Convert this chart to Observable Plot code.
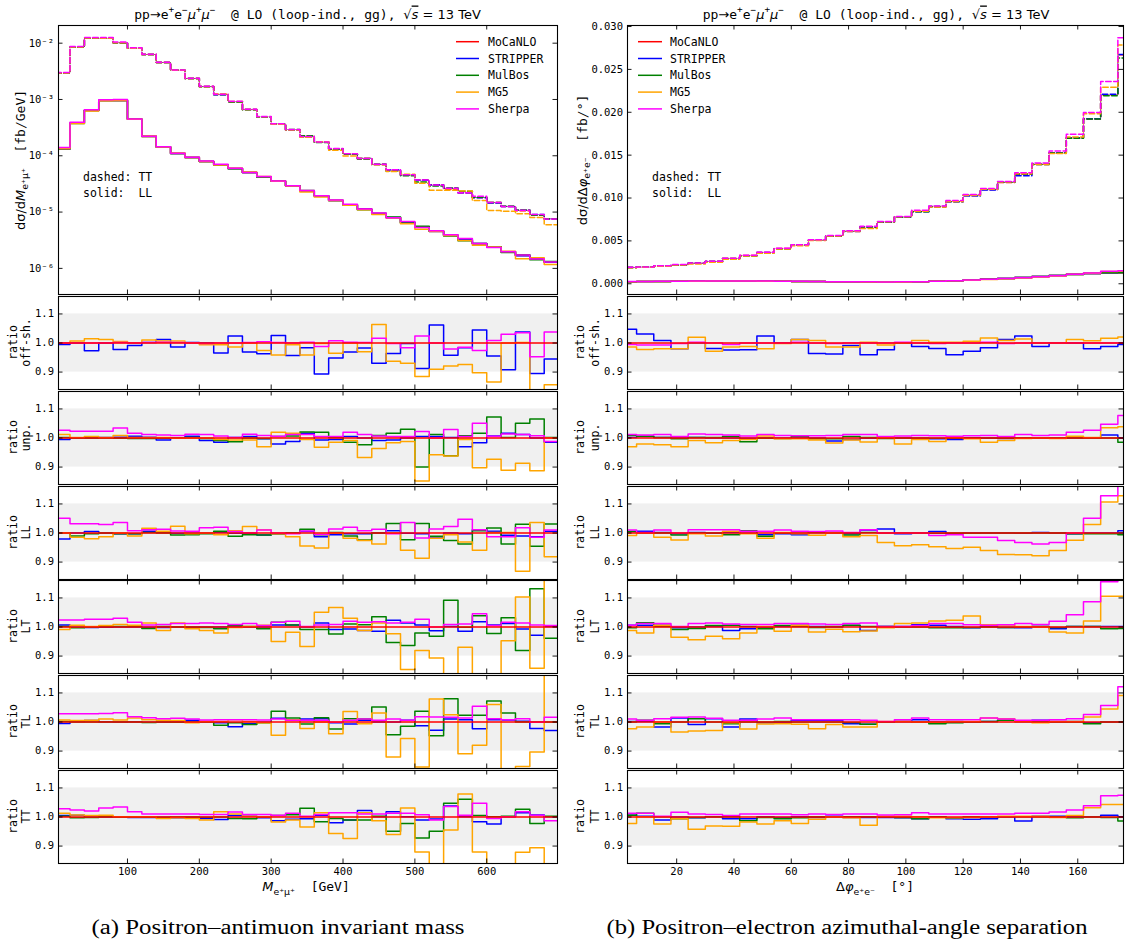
<!DOCTYPE html>
<html><head><meta charset="utf-8">
<script src="https://cdn.jsdelivr.net/npm/d3@7"></script>
<script src="https://cdn.jsdelivr.net/npm/@observablehq/plot@0.6"></script>
<style>
body{margin:0;background:#fff}
#fig{position:relative;width:1126px;height:940px;overflow:hidden;background:#fff}
</style>
</head><body><div id="fig"></div>
<script>
// ---------------- data ----------------
const generators = ["MoCaNLO", "STRIPPER", "MulBos", "MG5", "Sherpa"];
const genColors = ["#ff0000", "#0000ff", "#008000", "#ffa500", "#ff00ff"];
const ratioNames = ["off-sh.", "unp.", "LL", "LT", "TL", "TT"];

const massEdges = [0,20,40,60,80,100,120,140,160,180,200,220,240,260,280,300,320,340,360,380,400,420,440,460,480,500,520,540,560,580,600,620,640,660,680,700];
const phiEdges = [0,6,12,18,24,30,36,42,48,54,60,66,72,78,84,90,96,102,108,114,120,126,132,138,144,150,156,162,168,174,180];
const massTicks = [100,200,300,400,500,600];
const phiTicks = [20,40,60,80,100,120,140,160];
const ratioTicks = [0.9, 1.0, 1.1];
const logTicks = [1e-6, 1e-5, 1e-4, 1e-3, 1e-2];
const logTickLabels = ["10⁻⁶", "10⁻⁵", "10⁻⁴", "10⁻³", "10⁻²"];
const linTicks = [0, 0.005, 0.010, 0.015, 0.020, 0.025, 0.030];
const ratioRef = [1.0];
const band = [{lo: 0.9, hi: 1.1}];

// main panels: MoCaNLO reference
const massTT_MoCaNLO = [2.93e-3,8.5e-3,1.23e-2,1.22e-2,1.02e-2,8.15e-3,6.29e-3,4.54e-3,3.32e-3,2.36e-3,1.70e-3,1.23e-3,9.1e-4,6.64e-4,4.92e-4,3.70e-4,2.90e-4,2.20e-4,1.75e-4,1.33e-4,1.07e-4,8.86e-5,7.02e-5,5.57e-5,4.54e-5,3.70e-5,3.06e-5,2.56e-5,2.20e-5,1.82e-5,1.48e-5,1.26e-5,1.06e-5,8.97e-6,7.62e-6];
const massLL_MoCaNLO = [1.33e-4,3.80e-4,6.38e-4,9.6e-4,9.6e-4,4.48e-4,2.20e-4,1.43e-4,1.10e-4,9.33e-5,7.93e-5,6.92e-5,5.96e-5,5.06e-5,4.24e-5,3.55e-5,2.93e-5,2.39e-5,1.95e-5,1.61e-5,1.35e-5,1.13e-5,9.46e-6,7.93e-6,6.56e-6,5.42e-6,4.60e-6,3.86e-6,3.23e-6,2.74e-6,2.39e-6,2.00e-6,1.70e-6,1.49e-6,1.28e-6];
const phiTT_MoCaNLO = [0.0019,0.00194,0.0021,0.0022,0.0024,0.0026,0.00295,0.0033,0.00364,0.0041,0.00453,0.00508,0.00558,0.00612,0.00663,0.00721,0.00779,0.00845,0.00899,0.00961,0.01031,0.0110,0.01182,0.01279,0.01391,0.01523,0.01702,0.01922,0.02198,0.0267];
const phiLL_MoCaNLO = [0.00025,0.00026,0.00028,0.0003,0.00031,0.00032,0.00032,0.00032,0.00031,0.0003,0.00028,0.00026,0.00024,0.00023,0.00022,0.00022,0.00023,0.00025,0.0003,0.00036,0.00044,0.00053,0.00063,0.00074,0.00086,0.00098,0.0011,0.0012,0.0013,0.0013];

// ratio panels, invariant mass
const mOffsh_STRIPPER = [0.995,1.0,0.973,1.0,0.978,0.991,1.002,1.012,0.986,1.002,1.0,0.966,1.024,0.969,0.963,1.026,0.957,0.984,0.893,0.948,0.969,0.983,0.930,0.964,0.998,0.912,1.062,0.958,0.984,1.045,0.955,0.908,1.038,0.895,0.945];
const mOffsh_MG5 = [1.0,1.007,1.015,1.012,1.005,1.0,1.010,1.007,1.007,1.0,0.994,0.994,0.986,1.0,0.974,0.959,0.994,0.959,0.998,0.965,1.0,0.970,1.064,0.937,0.930,0.885,0.910,0.921,0.926,0.898,0.866,1.0,1.002,0.80,0.856];
const mOffsh_Sherpa = [1.0,1.0,1.0,1.0,1.002,1.0,1.002,1.003,1.002,1.0,0.998,1.0,1.0,1.002,1.004,1.002,1.0,1.003,0.988,1.008,1.003,1.002,1.016,0.998,0.984,1.024,1.0,0.979,0.985,0.974,1.009,1.03,1.035,0.953,1.038];

const mUnp_STRIPPER = [0.995,1.0,1.0,1.002,1.003,1.006,1.003,0.993,0.999,1.006,0.991,0.985,1.002,1.005,0.997,0.979,0.988,1.016,0.993,0.995,1.005,1.0,0.991,0.993,1.0,1.005,1.005,1.002,0.970,0.984,1.007,1.016,1.012,1.0,0.985];
const mUnp_MulBos = [1.002,1.0,1.0,1.0,0.999,0.998,0.998,0.999,1.0,1.002,0.998,0.991,0.987,1.0,0.998,1.005,1.007,1.021,1.02,1.002,0.985,0.977,1.009,1.016,1.03,0.90,1.012,0.939,1.008,1.016,1.072,1.002,1.051,1.065,1.002];
const mUnp_MG5 = [1.012,1.002,1.005,1.002,1.009,1.002,1.002,1.002,0.999,1.0,1.0,0.995,0.993,0.993,0.97,1.02,1.016,0.995,0.968,0.985,0.991,0.933,0.964,0.984,0.988,0.852,0.942,0.938,0.995,0.898,0.927,0.889,0.913,0.887,1.0];
const mUnp_Sherpa = [1.027,1.023,1.023,1.023,1.034,1.016,1.012,1.010,1.009,1.013,1.012,1.007,1.002,1.013,1.009,1.006,1.012,1.012,1.005,1.005,1.02,1.012,1.007,1.005,1.005,1.022,1.0,1.029,1.005,1.051,1.006,1.014,1.012,1.008,0.988];

const mLL_STRIPPER = [0.979,1.0,1.005,1.0,0.997,0.997,1.006,1.002,0.999,0.999,1.0,1.003,0.999,0.997,0.993,0.997,0.999,1.005,0.987,0.994,0.997,0.997,1.0,1.008,0.999,0.997,0.983,1.0,0.997,1.011,1.006,0.992,0.990,0.987,1.006];
const mLL_MulBos = [1.0,0.99,0.997,1.0,0.997,0.997,1.002,1.0,0.993,0.994,0.997,1.006,0.989,0.994,0.993,0.997,1.0,1.013,0.994,1.002,0.99,0.976,1.0,1.033,0.977,1.033,0.989,0.974,0.962,1.008,1.017,0.962,1.03,0.954,1.031];
const mLL_MG5 = [1.0,0.985,0.98,0.987,1.0,0.99,1.016,1.006,1.023,0.997,1.0,0.994,1.008,1.022,1.011,0.997,0.987,0.955,0.948,1.0,0.982,0.974,0.962,1.0,0.941,0.913,0.982,0.994,0.969,0.941,1.002,1.002,0.868,1.036,0.918];
const mLL_Sherpa = [1.051,1.032,1.032,1.029,1.036,1.008,1.011,1.013,1.007,1.006,1.018,1.02,1.005,1.001,1.01,1.0,0.997,1.007,0.995,1.014,1.02,1.008,1.013,0.997,1.036,0.983,1.014,1.022,1.047,1.011,0.987,0.987,1.018,0.985,1.01];

const mLT_STRIPPER = [1.007,0.999,0.998,0.999,1.0,1.0,0.999,0.998,1.0,0.999,1.0,1.0,1.002,1.0,1.0,1.007,1.007,1.0,1.014,0.991,0.993,0.988,0.985,1.023,1.014,1.007,0.987,1.002,0.985,1.018,1.007,1.012,0.993,0.972,1.002];
const mLT_MulBos = [1.002,0.997,1.0,1.002,1.002,1.002,0.995,1.002,1.0,1.0,0.998,0.994,1.005,1.002,0.994,1.016,1.007,0.991,0.991,0.976,1.01,1.008,1.035,0.947,0.936,0.979,0.968,1.092,0.999,1.039,0.978,1.032,0.919,1.132,0.961];
const mLT_MG5 = [0.991,1.006,1.002,1.005,1.009,1.006,1.014,0.988,1.014,0.994,0.988,0.979,0.998,1.002,1.006,0.95,0.982,0.933,1.051,1.067,1.03,0.988,1.014,0.977,0.854,0.919,0.893,0.80,0.93,0.78,0.80,0.953,1.103,0.858,1.22];
const mLT_Sherpa = [1.024,1.024,1.027,1.027,1.03,1.016,1.007,1.009,1.012,1.012,1.014,1.012,1.009,1.012,1.005,1.016,1.02,1.002,1.007,1.009,1.02,1.016,1.018,1.014,1.016,1.027,1.0,1.009,1.01,1.046,1.005,1.016,1.014,1.007,1.005];

const mTL_STRIPPER = [0.995,1.002,1.005,1.001,1.0,1.001,0.999,0.999,1.003,1.006,1.002,0.997,0.984,0.994,0.999,1.013,1.008,1.01,1.011,0.997,0.993,1.006,1.0,1.0,1.006,0.987,0.972,1.01,1.008,0.977,1.008,1.007,1.003,0.978,0.971];
const mTL_MulBos = [1.002,1.0,1.0,1.0,1.0,1.0,0.998,1.0,0.999,1.0,1.0,0.989,0.997,0.991,0.997,1.037,1.014,0.993,1.015,0.976,1.011,1.01,1.052,0.956,0.985,1.037,0.953,1.08,1.023,1.023,1.072,1.031,1.0,1.0,1.0];
const mTL_MG5 = [1.007,1.005,1.006,1.01,1.007,1.014,1.008,1.006,1.005,0.997,1.002,1.002,1.008,1.002,0.997,0.954,1.008,0.978,1.0,0.96,1.036,0.994,1.031,0.88,0.943,0.845,1.079,1.025,0.891,0.92,1.06,0.78,0.847,0.897,1.22];
const mTL_Sherpa = [1.028,1.028,1.028,1.029,1.032,1.018,1.015,1.011,1.013,1.01,1.007,1.008,1.008,1.008,1.007,1.01,1.006,1.006,1.006,0.999,1.006,1.01,1.006,1.01,1.006,1.018,1.017,1.016,1.014,1.054,1.011,1.008,1.011,0.999,1.016];

const mTT_STRIPPER = [1.005,1.006,0.999,1.0,0.999,0.998,0.998,0.999,0.997,0.998,0.995,0.991,1.005,1.003,0.997,0.987,0.992,0.994,1.006,0.98,0.99,1.022,1.001,1.018,1.001,0.99,0.993,1.038,1.001,0.984,0.976,1.001,1.015,1.007,1.001];
const mTT_MulBos = [1.003,0.997,0.998,1.001,1.0,1.0,0.999,0.998,1.0,1.0,0.999,1.0,0.995,0.994,1.001,1.005,1.008,1.03,0.984,0.995,0.99,0.99,1.003,0.951,0.978,0.928,0.951,1.047,1.061,1.005,1.001,1.003,1.027,0.978,1.003];
const mTT_MG5 = [1.013,1.007,1.005,1.006,1.001,1.001,1.001,0.995,0.997,0.995,0.99,1.018,1.01,1.003,1.001,0.983,0.99,0.966,1.015,0.943,0.926,1.015,0.987,0.94,1.031,0.88,0.80,0.955,1.079,0.88,0.72,0.82,0.879,0.894,0.78];
const mTT_Sherpa = [1.028,1.024,1.021,1.031,1.034,1.018,1.01,1.01,1.01,1.01,1.009,1.009,1.017,1.009,1.009,1.006,1.013,1.003,1.009,1.015,1.015,1.01,1.01,1.013,1.013,1.008,0.99,1.036,1.006,1.047,0.995,1.001,1.018,1.006,0.987];

// ratio panels, azimuthal separation
const pOffsh_STRIPPER = [1.047,1.031,1.009,0.98,1.001,0.981,0.976,0.977,1.024,1.001,1.012,0.964,0.962,0.991,0.96,0.977,1.0,0.988,0.981,0.96,0.972,0.984,1.012,1.024,0.988,1.001,1.0,0.98,0.988,0.995];
const pOffsh_MG5 = [0.986,0.978,0.98,0.98,1.02,0.972,0.986,0.988,0.98,0.998,1.012,1.009,0.986,0.986,1.003,0.993,1.0,1.009,1.003,1.003,1.006,1.017,1.009,1.014,1.0,1.0,1.012,1.008,1.016,1.021];
const pOffsh_Sherpa = [0.995,0.993,0.993,0.998,1.003,1.0,0.995,1.0,1.0,1.0,1.003,1.0,0.998,1.0,1.0,1.0,1.003,1.0,0.998,1.0,1.0,1.003,0.998,1.0,1.0,1.0,1.0,1.0,1.0,1.0];

const pUnp_STRIPPER = [1.002,1.005,1.002,1.0,1.002,1.0,1.0,0.999,1.0,0.999,1.0,1.0,0.99,0.995,0.999,1.0,1.0,0.998,0.997,0.995,1.0,1.0,0.998,1.0,1.0,0.999,1.0,1.001,1.01,1.0];
const pUnp_MulBos = [1.009,1.006,1.002,0.997,1.002,1.002,1.005,0.987,0.999,0.998,1.005,0.997,0.997,1.005,1.002,0.998,1.0,1.0,0.999,0.999,1.0,1.0,1.0,1.0,1.001,1.0,1.0,1.0,1.0,0.985];
const pUnp_MG5 = [0.97,0.979,0.977,0.97,0.991,0.984,0.991,0.995,1.007,0.997,0.997,0.993,0.983,0.993,0.986,1.002,0.979,0.995,0.988,1.002,0.997,0.985,0.991,0.998,1.0,0.998,1.006,1.002,1.035,1.039];
const pUnp_Sherpa = [1.012,1.01,1.012,1.005,1.014,1.012,1.01,1.007,1.012,1.009,1.008,1.008,1.009,1.012,1.012,1.005,1.007,1.009,1.008,1.006,1.008,1.009,1.005,1.012,1.009,1.01,1.02,1.027,1.047,1.077];

const pLL_STRIPPER = [1.005,1.006,1.002,0.997,1.002,0.999,1.002,0.999,0.994,0.997,0.994,1.002,1.0,0.997,1.01,1.014,0.997,0.999,1.005,0.997,1.0,1.0,1.0,0.999,1.002,1.0,0.997,1.0,1.0,1.008];
const pLL_MulBos = [1.005,1.0,1.0,0.993,1.0,1.0,0.994,1.008,0.989,1.0,0.999,1.002,1.002,0.993,1.002,1.0,1.0,1.0,0.999,1.0,0.999,1.0,1.0,1.0,1.0,1.0,0.997,0.997,0.997,0.994];
const pLL_MG5 = [0.991,1.0,0.985,0.976,0.997,0.99,1.006,0.997,0.982,1.002,0.997,0.992,1.0,0.987,0.991,0.967,0.956,0.96,0.953,0.947,0.951,0.94,0.926,0.925,0.922,0.94,0.975,1.029,1.107,1.128];
const pLL_Sherpa = [1.01,1.002,1.01,1.0,1.011,1.011,1.011,1.006,1.006,1.01,1.006,1.005,1.007,1.002,1.011,1.0,1.0,1.0,0.991,0.994,0.985,0.985,0.974,0.967,0.962,0.967,1.0,1.051,1.128,1.18];

const pLT_STRIPPER = [1.006,1.006,1.006,0.997,1.0,1.002,0.988,0.994,0.999,1.002,1.006,1.002,1.0,1.005,0.988,1.002,1.002,1.008,1.006,1.002,0.997,1.002,0.998,0.997,1.002,0.994,1.002,1.002,1.002,1.002];
const pLT_MulBos = [0.997,1.015,1.002,0.991,0.995,1.005,1.006,1.002,0.994,1.005,1.002,0.998,1.002,1.006,1.002,1.002,1.0,1.0,0.997,0.997,0.998,1.0,0.998,1.0,1.002,0.998,1.002,1.002,0.994,0.995];
const pLT_MG5 = [0.988,0.979,1.006,0.965,0.956,0.968,0.96,0.979,1.002,0.985,1.006,0.983,0.992,0.984,0.986,0.997,1.012,1.014,1.021,1.023,1.038,1.008,1.007,1.002,1.0,0.983,0.979,1.021,1.106,1.106];
const pLT_Sherpa = [1.006,1.012,1.012,1.002,1.012,1.014,1.01,1.009,1.009,1.012,1.012,1.01,1.009,1.012,1.014,1.002,1.002,1.005,1.012,1.012,1.008,1.006,1.008,1.012,1.009,1.02,1.042,1.087,1.156,1.2];

const pTL_STRIPPER = [1.002,1.002,0.983,1.014,0.991,1.011,0.983,1.01,0.997,0.998,1.006,1.006,1.006,0.994,0.992,1.0,1.002,1.008,1.0,1.002,1.0,1.002,1.006,1.002,1.006,1.002,1.002,0.997,1.0,1.0];
const pTL_MulBos = [1.0,1.006,0.994,1.0,1.011,1.0,0.994,1.0,1.0,1.002,1.0,1.0,1.0,0.998,0.992,1.0,1.002,1.0,0.994,0.997,1.0,1.002,1.006,1.002,1.0,1.0,1.0,0.994,1.0,1.0];
const pTL_MG5 = [0.977,0.983,1.0,0.966,0.969,0.971,0.997,0.976,0.993,0.994,0.992,0.977,0.991,0.983,0.983,1.002,1.002,1.0,0.999,1.002,1.002,1.014,1.011,1.002,0.997,1.002,1.002,1.017,1.045,1.091];
const pTL_Sherpa = [1.01,1.006,1.011,1.016,1.017,1.013,1.006,1.006,1.01,1.014,1.008,1.008,1.008,1.008,1.006,1.002,1.008,1.014,1.008,1.008,1.008,1.014,1.01,1.006,1.006,1.008,1.011,1.026,1.057,1.121];

const pTT_STRIPPER = [1.006,1.003,0.99,1.0,0.997,1.001,0.994,0.994,1.001,0.998,1.001,0.998,1.003,0.998,0.998,0.998,0.997,0.994,1.001,0.994,0.992,0.994,1.001,0.986,1.003,1.003,1.001,1.001,1.006,1.001];
const pTT_MulBos = [1.006,1.013,1.001,0.994,0.998,1.001,1.001,0.987,0.998,0.994,0.997,1.001,1.001,1.001,1.001,1.001,0.998,0.994,1.001,0.997,1.001,1.001,1.001,1.001,1.001,1.001,0.997,1.0,0.998,0.986];
const pTT_MG5 = [0.978,1.001,0.976,0.994,0.958,0.969,0.968,0.983,0.976,0.987,0.978,0.992,1.001,0.997,0.972,1.003,1.003,1.001,0.997,0.997,0.998,1.001,1.003,1.003,1.003,0.998,1.005,1.032,1.043,1.043];
const pTT_Sherpa = [1.013,1.013,1.003,1.016,1.01,1.009,1.005,1.01,1.01,1.01,1.008,1.01,1.009,1.01,1.01,1.007,1.008,1.015,1.01,1.01,1.01,1.01,1.01,1.013,1.013,1.017,1.024,1.039,1.073,1.075];

// ---------------- tables built from the arrays ----------------
const massRatios = [
  {STRIPPER: mOffsh_STRIPPER, MG5: mOffsh_MG5, Sherpa: mOffsh_Sherpa},
  {STRIPPER: mUnp_STRIPPER, MulBos: mUnp_MulBos, MG5: mUnp_MG5, Sherpa: mUnp_Sherpa},
  {STRIPPER: mLL_STRIPPER, MulBos: mLL_MulBos, MG5: mLL_MG5, Sherpa: mLL_Sherpa},
  {STRIPPER: mLT_STRIPPER, MulBos: mLT_MulBos, MG5: mLT_MG5, Sherpa: mLT_Sherpa},
  {STRIPPER: mTL_STRIPPER, MulBos: mTL_MulBos, MG5: mTL_MG5, Sherpa: mTL_Sherpa},
  {STRIPPER: mTT_STRIPPER, MulBos: mTT_MulBos, MG5: mTT_MG5, Sherpa: mTT_Sherpa}
];
const phiRatios = [
  {STRIPPER: pOffsh_STRIPPER, MG5: pOffsh_MG5, Sherpa: pOffsh_Sherpa},
  {STRIPPER: pUnp_STRIPPER, MulBos: pUnp_MulBos, MG5: pUnp_MG5, Sherpa: pUnp_Sherpa},
  {STRIPPER: pLL_STRIPPER, MulBos: pLL_MulBos, MG5: pLL_MG5, Sherpa: pLL_Sherpa},
  {STRIPPER: pLT_STRIPPER, MulBos: pLT_MulBos, MG5: pLT_MG5, Sherpa: pLT_Sherpa},
  {STRIPPER: pTL_STRIPPER, MulBos: pTL_MulBos, MG5: pTL_MG5, Sherpa: pTL_Sherpa},
  {STRIPPER: pTT_STRIPPER, MulBos: pTT_MulBos, MG5: pTT_MG5, Sherpa: pTT_Sherpa}
];

// ---------------- layout ----------------
const MONO = "'DejaVu Sans Mono', monospace";
const SANS = "'DejaVu Sans', sans-serif";
const SERIF = "'Liberation Serif', 'DejaVu Serif', serif";
const fig = document.getElementById("fig");

const MAIN_Y0 = 25, MAIN_H = 269;
const RATIO_TOPS = [296, 391, 486, 580, 675, 770];
const RATIO_H = 93;
const colMass = {x0: 58, w: 499, xDomain: [4.0, 698.5], edges: massEdges, ticks: massTicks, ratios: massRatios};
const colPhi  = {x0: 627, w: 496, xDomain: [2.83, 175.97], edges: phiEdges, ticks: phiTicks, ratios: phiRatios};

function stepRows(edges, vals) {
  const rows = vals.map((v, i) => ({x: edges[i], y: v}));
  rows.push({x: edges[vals.length], y: vals[vals.length - 1]});
  return rows;
}

function tickMarks(xt, yt, w, h) {
  const L = 4.5, s = {stroke: "black", strokeWidth: 0.9};
  return [
    Plot.ruleX(xt, {x: d => d, insetTop: h - L, ...s}),
    Plot.ruleX(xt, {x: d => d, insetBottom: h - L, ...s}),
    Plot.ruleY(yt, {y: d => d, insetRight: w - L, ...s}),
    Plot.ruleY(yt, {y: d => d, insetLeft: w - L, ...s})
  ];
}

function addPanel(x0, y0, w, h, xDomain, yOpts, marks) {
  const svg = Plot.plot({
    width: w, height: h, margin: 0,
    x: {domain: xDomain, axis: null},
    y: {...yOpts, axis: null},
    style: {fontFamily: MONO, fontSize: "10.5px", overflow: "visible", background: "transparent", color: "black"},
    marks
  });
  svg.style.position = "absolute";
  svg.style.left = x0 + "px";
  svg.style.top = y0 + "px";
  svg.style.maxWidth = "none";
  fig.appendChild(svg);
}

function stepLine(edges, vals, color, dashed) {
  return Plot.line(stepRows(edges, vals), {
    x: "x", y: "y", curve: "step-after", stroke: color, strokeWidth: 1.5,
    strokeDasharray: dashed ? "5.5,2.5" : null, clip: true
  });
}

function mainPanel(col, baseTT, baseLL, yOpts, yTicks, yLabels) {
  const ttR = col.ratios[5], llR = col.ratios[2];
  const marks = [];
  generators.forEach((g, i) => {
    const tt = g === "MoCaNLO" ? baseTT : baseTT.map((v, j) => v * ttR[g][j]);
    const ll = g === "MoCaNLO" ? baseLL : baseLL.map((v, j) => v * llR[g][j]);
    marks.push(stepLine(col.edges, tt, genColors[i], true));
    marks.push(stepLine(col.edges, ll, genColors[i], false));
  });
  marks.push(...tickMarks(col.ticks, yTicks, col.w, MAIN_H));
  marks.push(Plot.frame({stroke: "black", strokeWidth: 1.1}));
  marks.push(Plot.text(yTicks, {y: d => d, text: (d, i) => yLabels[i], frameAnchor: "left", textAnchor: "end", dx: -4.5}));
  addPanel(col.x0, MAIN_Y0, col.w, MAIN_H, col.xDomain, yOpts, marks);
}

function ratioPanels(col) {
  col.ratios.forEach((series, k) => {
    const marks = [
      Plot.rect(band, {x1: col.xDomain[0], x2: col.xDomain[1], y1: "lo", y2: "hi", fill: "#f0f0f0"})
    ];
    generators.forEach((g, i) => {
      if (series[g]) marks.push(stepLine(col.edges, series[g], genColors[i], false));
    });
    marks.push(Plot.ruleY(ratioRef, {stroke: genColors[0], strokeWidth: 1.5}));
    marks.push(...tickMarks(col.ticks, ratioTicks, col.w, RATIO_H));
    marks.push(Plot.frame({stroke: "black", strokeWidth: 1.1}));
    marks.push(Plot.text(ratioTicks, {y: d => d, text: d => d.toFixed(1), frameAnchor: "left", textAnchor: "end", dx: -4.5}));
    if (k === 5) marks.push(Plot.text(col.ticks, {x: d => d, text: d => String(d), frameAnchor: "bottom", lineAnchor: "top", dy: 4}));
    addPanel(col.x0, RATIO_TOPS[k], col.w, RATIO_H, col.xDomain, {domain: [0.84, 1.16]}, marks);
  });
}

mainPanel(colMass, massTT_MoCaNLO, massLL_MoCaNLO,
  {type: "log", domain: [Math.pow(10, -6.464), Math.pow(10, -1.686)]}, logTicks, logTickLabels);
mainPanel(colPhi, phiTT_MoCaNLO, phiLL_MoCaNLO,
  {domain: [-0.00125, 0.03012]}, linTicks, linTicks.map(d => d.toFixed(3)));
ratioPanels(colMass);
ratioPanels(colPhi);

// ---------------- text overlay ----------------
const ov = d3.select(fig).append("svg")
  .attr("width", 1126).attr("height", 940)
  .style("position", "absolute").style("left", "0px").style("top", "0px")
  .style("pointer-events", "none");

function rich(x, y, segs, o) {
  const t = ov.append("text").attr("x", x).attr("y", y)
    .attr("text-anchor", o.anchor || "middle")
    .attr("font-size", o.size).attr("font-family", o.family || MONO)
    .attr("fill", "black").style("white-space", "pre");
  if (o.central) t.attr("dominant-baseline", "central");
  if (o.rotate) t.attr("transform", `rotate(-90 ${x} ${y})`);
  if (o.length) t.attr("textLength", o.length).attr("lengthAdjust", "spacingAndGlyphs");
  let shift = 0;
  for (const s of segs) {
    const sp = t.append("tspan").text(s.t);
    const target = s.sup ? -0.4 * o.size : s.sub ? 0.28 * o.size : 0;
    if (target !== shift) sp.attr("dy", target - shift);
    shift = target;
    if (s.sup || s.sub) sp.attr("font-size", o.size * 0.72);
    if (s.f) sp.attr("font-family", s.f);
    if (s.i) sp.attr("font-style", "italic");
    if (s.over) sp.style("text-decoration", "overline");
  }
  return t;
}

const titleSegs = [
  {t: "pp"}, {t: "→", f: SANS}, {t: "e"}, {t: "+", sup: 1}, {t: "e"}, {t: "−", sup: 1},
  {t: "μ", i: 1, f: SANS}, {t: "+", sup: 1}, {t: "μ", i: 1, f: SANS}, {t: "−", sup: 1},
  {t: "  @ LO (loop-ind., gg), "}, {t: "√", f: SANS}, {t: "s", f: SANS, i: 1, over: 1}, {t: " = 13 TeV", f: SANS}
];
rich(307.5, 18.5, titleSegs, {size: 13});
rich(876, 18.5, titleSegs, {size: 13});

// main y labels
rich(20, 160, [{t: "dσ/d", f: SANS}, {t: "M", f: SANS, i: 1}, {t: "e⁺μ⁺", sub: 1, f: SANS}, {t: "  [fb/GeV]"}],
  {size: 13, rotate: 1, central: 1});
rich(582, 160, [{t: "dσ/dΔ", f: SANS}, {t: "φ", f: SANS, i: 1}, {t: "e⁺e⁻", sub: 1, f: SANS}, {t: "  [fb/°]"}],
  {size: 13, rotate: 1, central: 1});

// ratio labels
ratioNames.forEach((nm, k) => {
  const cy = RATIO_TOPS[k] + RATIO_H / 2;
  [[13, 26], [580, 595]].forEach(([xa, xb]) => {
    rich(xa, cy, [{t: "ratio"}], {size: 11.5, rotate: 1, central: 1});
    rich(xb, cy, [{t: nm}], {size: 11.5, rotate: 1, central: 1});
  });
});

// x labels
rich(306, 891, [{t: "M", f: SANS, i: 1}, {t: "e⁺μ⁺", sub: 1, f: SANS}, {t: "  [GeV]"}], {size: 13});
rich(875, 891, [{t: "Δ", f: SANS}, {t: "φ", f: SANS, i: 1}, {t: "e⁺e⁻", sub: 1, f: SANS}, {t: "  [°]"}], {size: 13});

// legends
[[456, 479, 488], [638, 662, 670]].forEach(([l0, l1, tx]) => {
  generators.forEach((g, i) => {
    const yy = 41.7 + 16.8 * i;
    ov.append("line").attr("x1", l0).attr("x2", l1).attr("y1", yy).attr("y2", yy)
      .attr("stroke", genColors[i]).attr("stroke-width", 1.5);
    rich(tx, yy, [{t: g}], {size: 11.5, anchor: "start", central: 1});
  });
});
[[83], [652]].forEach(([x]) => {
  rich(x, 177, [{t: "dashed: TT"}], {size: 11.5, anchor: "start", central: 1});
  rich(x, 193, [{t: "solid:  LL"}], {size: 11.5, anchor: "start", central: 1});
});

// captions
rich(278, 934, [{t: "(a) Positron–antimuon invariant mass"}], {size: 20, family: SERIF, length: 373});
rich(847, 934, [{t: "(b) Positron–electron azimuthal-angle separation"}], {size: 20, family: SERIF, length: 481});
</script></body></html>
